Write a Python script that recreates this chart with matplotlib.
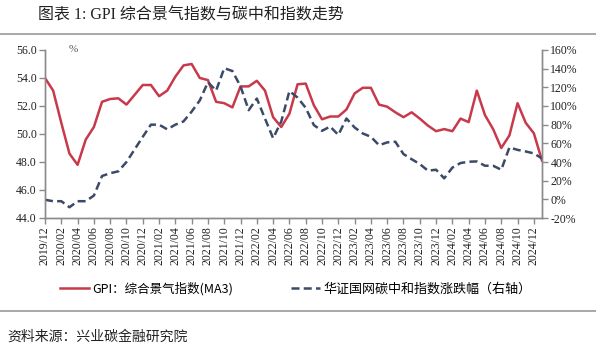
import numpy as np
import pandas as pd
import matplotlib
matplotlib.use('Agg')
import matplotlib.pyplot as plt
from matplotlib.lines import Line2D

# monthly, 2019/12 .. 2025/01
months = pd.date_range('2019-12-01', periods=62, freq='MS').strftime('%Y/%m').tolist()

gpi = [54.0, 53.1, 50.8, 48.6, 47.8, 49.6, 50.5, 52.3, 52.5, 52.55,
       52.1, 52.8, 53.5, 53.5, 52.7, 53.1, 54.1, 54.9, 55.0, 54.0,
       53.85, 52.3, 52.2, 51.9, 53.4, 53.4, 53.8, 53.1, 51.2, 50.5,
       51.45, 53.55, 53.6, 52.05, 51.05, 51.25, 51.25, 51.75, 52.9, 53.3,
       53.3, 52.1, 51.95, 51.55, 51.2, 51.55, 51.1, 50.6, 50.2, 50.35,
       50.2, 51.1, 50.85, 53.1, 51.35, 50.35, 49.0, 49.9, 52.2, 50.8,
       50.05, 48.1]

carbon = [-0.5, -2, -2, -8.5, -2, -2, 4, 25, 28, 30,
          40, 53.5, 67, 80, 80, 75, 80, 83.5, 94, 106,
          125.5, 116.5, 140.5, 137.5, 121, 95.5, 108, 86.5, 65.5, 83.5,
          116, 109, 98, 79.5, 73.4, 78, 69, 86.6, 77, 70.6,
          67, 58, 61, 61.7, 48.5, 43, 37.8, 30.7, 31.7, 22.5,
          34, 38.9, 40.3, 40.6, 36, 36, 31.7, 55.6, 53, 51.3,
          49.2, 43.8]

serif = 'Liberation Serif'
cjk = 'Noto Sans CJK SC'
red = '#C8394B'
blue = '#3B4A68'
grey = '#8A8A8A'

fig = plt.figure(figsize=(5.96, 3.56), dpi=100)
ax = fig.add_axes([45/596, 1-218/356, (542-45)/596, (218-50)/356])
ax2 = ax.twinx()

x = np.arange(len(months))
ax.plot(x, gpi, color=red, lw=1.8, zorder=3)
ax2.plot(x, carbon, color=blue, lw=1.8, dashes=(3.2, 1.7))

ax.set_xlim(0, len(months)-1)
ax.set_ylim(44, 56)
ax.set_yticks(np.arange(44, 56.1, 2))
ax.set_yticklabels(['%.1f' % v for v in np.arange(44, 56.1, 2)])
ax2.set_ylim(-20, 160)
ax2.set_yticks(np.arange(-20, 161, 20))
ax2.set_yticklabels(['%d%%' % v for v in np.arange(-20, 161, 20)])
ax.set_xticks(x[::2])
ax.set_xticklabels(months[::2], rotation=90)

for a in (ax, ax2):
    a.spines['top'].set_visible(False)
    for s in ('left', 'right', 'bottom'):
        a.spines[s].set_color(grey)
        a.spines[s].set_linewidth(1)
    a.tick_params(colors=grey, length=4, width=1, labelcolor='#222222')
    for lab in a.get_xticklabels() + a.get_yticklabels():
        lab.set_fontfamily(serif)
        lab.set_fontsize(8.5)
ax.tick_params(axis='x', pad=2)
ax.tick_params(axis='y', pad=2)
ax2.tick_params(axis='y', pad=2)

ax.text(0.056, 1.0, '%', transform=ax.transAxes, fontsize=8, family=serif,
        color='#555555', ha='center', va='center')

# legend
h1 = Line2D([], [], color=red, lw=1.8)
h2 = Line2D([], [], color=blue, lw=1.8, dashes=(3.2, 1.7))
leg = fig.legend([h1, h2], ['GPI：综合景气指数(MA3)', '华证国网碳中和指数涨跌幅（右轴）'],
                 loc='center', bbox_to_anchor=(0.496, 1-289/356), ncol=2, frameon=False,
                 prop={'family': cjk, 'size': 9}, handlelength=2.3, handletextpad=0.3,
                 columnspacing=4.6)
leg.get_texts()[1].set_fontsize(9.4)

# title, separators, source
fig.text(38/596, 1-16/356, '图表 1: GPI 综合景气指数与碳中和指数走势',
         family=[serif, cjk], fontsize=11.5, va='center', ha='left', color='#222222')
fig.add_artist(Line2D([0, 1], [1-33.5/356]*2, transform=fig.transFigure, color='#9A9A9A', lw=1.2))
fig.add_artist(Line2D([0, 1], [1-310.7/356]*2, transform=fig.transFigure, color='#9A9A9A', lw=1.2))
fig.text(7/596, 1-337/356, '资料来源：兴业碳金融研究院', family=cjk, fontsize=10,
         va='center', ha='left', color='#222222')

fig.savefig('out.png', dpi=100)
